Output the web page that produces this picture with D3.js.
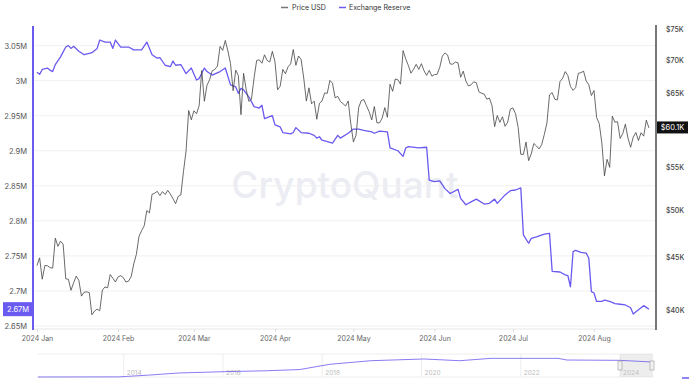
<!DOCTYPE html>
<html><head><meta charset="utf-8">
<script src="https://cdn.jsdelivr.net/npm/d3@7"></script>
<style>html,body{margin:0;padding:0;background:#fff;} svg{display:block;font-family:Inter,"Noto Sans",sans-serif;}</style>
</head><body><svg id="c" width="700" height="385"></svg>
<script>
// ---------- data ----------
const priceStart = "2024-01-01";
const priceUSD = [
44180,44950,42850,44180,44160,43970,43930,46970,46120,46660,46340,42890,42840,41800,42510,43150,42740,41260,41620,41660,41580,39570,39900,40080,39930,41820,42120,42030,43300,42950,42580,
43080,43190,43010,42580,42660,43090,44340,45300,47150,47770,48290,49960,49700,51810,51940,52160,51660,52120,51780,52270,51840,51300,50740,51570,51730,54480,57090,62500,61200,
62440,62030,63170,68330,63800,66110,66930,68300,68500,69020,72120,71480,73080,71400,69400,65320,68390,67550,61910,67910,65490,63780,64060,67210,69880,69990,69460,70780,69890,69650,71330,
69700,65450,65980,68510,67840,68900,69360,71620,69140,70590,70060,67200,63820,65740,63430,63810,61280,63510,63840,64990,64940,66840,66410,64290,64500,63770,63460,63120,63840,60670,
58250,59120,62890,63890,64030,63160,62330,61190,63050,60790,60790,61450,62900,61550,66270,65230,67050,66940,66280,71450,70140,69120,67930,68530,69290,68510,69390,68300,67590,68360,67490,
67710,67760,68800,70570,71080,70760,69340,69310,69650,69510,67320,68240,66750,66010,66190,66640,66490,65140,64960,64830,64100,64250,63180,60280,61800,60860,61610,60320,60890,62680,
62850,62030,60170,56660,56660,58230,55860,56710,58050,57720,57340,57900,59230,60790,64720,65040,64090,63990,66680,67150,68170,67580,65930,65370,65800,67910,68000,68250,66780,66190,64620,
65350,61500,60700,58120,53990,56030,55030,61710,60880,60940,58710,59350,60610,58740,57560,58880,59490,58430,59460,59010,61160,60100
];
const reserveDates = [
"01-01","01-02","01-03","01-05","01-06","01-07","01-08","01-10","01-12","01-13","01-14","01-15","01-17","01-19","01-21","01-22","01-24","01-25","01-27","01-29","01-30","01-31",
"02-02","02-05","02-07","02-10","02-12","02-14","02-16","02-17","02-19","02-21","02-22","02-23","02-25","02-27","02-29",
"03-02","03-03","03-05","03-06","03-08","03-11","03-13","03-15","03-17","03-18","03-19","03-20","03-22","03-24","03-26","03-27","03-28","03-31",
"04-01","04-03","04-04","04-07","04-08","04-09","04-11","04-14","04-16","04-17","04-18","04-19","04-21","04-23","04-25","04-26","04-29",
"05-01","05-03","05-05","05-08","05-09","05-11","05-14","05-15","05-18","05-20","05-21","05-22","05-26","05-29","05-30",
"06-01","06-03","06-05","06-07","06-10","06-11","06-13","06-15","06-17","06-20","06-22","06-24","06-25","06-28","06-30",
"07-02","07-04","07-05","07-07","07-08","07-10","07-13","07-15","07-16","07-19","07-21","07-22","07-23","07-24","07-25","07-27","07-29","07-30","07-31",
"08-01","08-02","08-04","08-05","08-07","08-09","08-11","08-13","08-15","08-16","08-18","08-20","08-22"
];
const reserveM = [
3.012,3.009,3.016,3.018,3.015,3.013,3.023,3.034,3.048,3.050,3.046,3.049,3.042,3.037,3.039,3.040,3.046,3.058,3.055,3.055,3.046,3.058,
3.048,3.048,3.044,3.044,3.055,3.037,3.032,3.033,3.022,3.020,3.028,3.022,3.023,3.010,3.018,
3.001,3.003,3.018,3.013,3.008,3.013,3.018,2.994,2.991,2.982,2.989,2.987,2.977,2.963,2.961,2.965,2.946,2.950,
2.937,2.934,2.926,2.924,2.926,2.933,2.926,2.925,2.922,2.918,2.920,2.915,2.913,2.911,2.922,2.918,2.925,
2.931,2.931,2.929,2.927,2.925,2.928,2.927,2.904,2.900,2.892,2.904,2.906,2.904,2.905,2.858,
2.856,2.857,2.846,2.839,2.845,2.832,2.823,2.827,2.831,2.824,2.825,2.831,2.825,2.837,2.843,
2.844,2.847,2.780,2.768,2.775,2.777,2.781,2.782,2.728,2.727,2.723,2.722,2.706,2.756,2.758,2.755,2.754,2.747,2.699,
2.697,2.685,2.685,2.687,2.685,2.682,2.681,2.680,2.676,2.667,2.673,2.679,2.674
];
const leftTicks = [2.65,2.7,2.75,2.8,2.85,2.9,2.95,3.0,3.05];
const leftTickLabels = ["2.65M","2.7M","2.75M","2.8M","2.85M","2.9M","2.95M","3M","3.05M"];
// $60K tick is hidden under the last-value badge in the reference
const rightTicks = [40000,45000,50000,55000,65000,70000,75000];
const rightTickLabels = ["$40K","$45K","$50K","$55K","$65K","$70K","$75K"];
const monthTicks = ["2024-01-01","2024-02-01","2024-03-01","2024-04-01","2024-05-01","2024-06-01","2024-07-01","2024-08-01"];
const monthLabels = ["2024 Jan","2024 Feb","2024 Mar","2024 Apr","2024 May","2024 Jun","2024 Jul","2024 Aug"];
const lastPriceLabel = "$60.1K";
const lastReserveLabel = "2.67M";
const navYears = [2012.27,2013.9,2014.5,2015.1,2016.0,2016.9,2017.55,2018.15,2018.98,2020.05,2020.77,2021.4,2022.75,2022.93,2024.0,2024.65];
const navValues = [0.0,0.02,0.3,0.64,0.85,1.01,1.2,2.04,2.62,2.9,2.62,3.0,3.0,2.73,2.68,2.41];
const navYearLabels = [2014,2016,2018,2020,2022,2024];

// ---------- layout ----------
const PL = 33, PR = 656, PT = 26, PB = 329;
const C_PURPLE = "#6a5af0", C_PRICE = "#444";
const svg = d3.select("#c");

const x = d3.scaleUtc().domain([new Date("2024-01-01"), new Date("2024-08-01")]).range([37, 594]);
const yL = d3.scaleLinear().domain([2.6457, 3.078]).range([PB, PT]);
const yR = d3.scaleLog().domain([38335, 75490]).range([PB, PT]);

// watermark
svg.append("text").attr("x", 345).attr("y", 198).attr("text-anchor", "middle")
  .attr("font-size", 37).attr("fill", "#ececf3").attr("font-weight", 500).text("CryptoQuant");

// gridlines
svg.append("g").selectAll("line").data(leftTicks).join("line")
  .attr("x1", PL).attr("x2", PR).attr("y1", d => yL(d)).attr("y2", d => yL(d))
  .attr("stroke", "#f0f0f0").attr("stroke-width", 1);

// bottom axis
const xAxis = d3.axisBottom(x).tickValues(monthTicks.map(d => new Date(d)))
  .tickFormat((d, i) => monthLabels[i]).tickSize(3).tickSizeOuter(0);
const gx = svg.append("g").attr("transform", `translate(0,${PB})`).call(xAxis);
gx.select(".domain").attr("stroke", "#e6e6e6").attr("d", `M${PL},0H${PR}`);
gx.selectAll(".tick line").attr("stroke", "#ddd");
gx.selectAll(".tick text").attr("fill", "#666").attr("font-size", 7).attr("dy", "0.9em").attr("font-family", "Inter");

// left axis
const yAxisL = d3.axisLeft(yL).tickValues(leftTicks).tickFormat((d, i) => leftTickLabels[i]).tickSize(0).tickPadding(6);
const gl = svg.append("g").attr("transform", `translate(${PL},0)`).call(yAxisL);
gl.select(".domain").remove();
gl.selectAll(".tick text").attr("fill", "#555").attr("font-size", 7.5).attr("font-family", "Inter");
svg.append("line").attr("x1", PL).attr("x2", PL).attr("y1", PT).attr("y2", PB + 1)
  .attr("stroke", C_PURPLE).attr("stroke-width", 2);

// right axis
const yAxisR = d3.axisRight(yR).tickValues(rightTicks).tickFormat((d, i) => rightTickLabels[i]).tickSize(0).tickPadding(10);
const gr = svg.append("g").attr("transform", `translate(${PR},0)`).call(yAxisR);
gr.select(".domain").remove();
gr.selectAll(".tick text").attr("fill", "#444").attr("font-size", 7).attr("font-weight", 500).attr("font-family", "Inter");
svg.append("line").attr("x1", PR).attr("x2", PR).attr("y1", PT - 1).attr("y2", PB + 1)
  .attr("stroke", "#777").attr("stroke-width", 2);

// lines
const priceData = priceUSD.map((v, i) => ({ d: d3.utcDay.offset(new Date(priceStart), i), v }));
const reserveData = reserveDates.map((d, i) => ({ d: new Date("2024-" + d), v: reserveM[i] }));

svg.append("path").datum(reserveData)
  .attr("d", d3.line().x(d => x(d.d)).y(d => yL(d.v)))
  .attr("fill", "none").attr("stroke", C_PURPLE).attr("stroke-width", 1.3).attr("stroke-linejoin", "round");
svg.append("path").datum(priceData)
  .attr("d", d3.line().x(d => x(d.d)).y(d => yR(d.v)))
  .attr("fill", "none").attr("stroke", C_PRICE).attr("stroke-width", 0.8).attr("stroke-linejoin", "round");

// last value badges
const lp = priceData[priceData.length - 1];
const lpy = yR(lp.v);
svg.append("rect").attr("x", PR + 1).attr("y", lpy - 6.5).attr("width", 31).attr("height", 12).attr("fill", "#111");
svg.append("text").attr("x", PR + 16.5).attr("y", lpy + 2.5).attr("text-anchor", "middle")
  .attr("fill", "#fff").attr("font-size", 7.5).text(lastPriceLabel);
const lr = reserveData[reserveData.length - 1];
const lry = yL(lr.v);
svg.append("rect").attr("x", 3).attr("y", lry - 7).attr("width", PL - 3).attr("height", 14).attr("fill", C_PURPLE);
svg.append("text").attr("x", 18).attr("y", lry + 2.5).attr("text-anchor", "middle")
  .attr("fill", "#fff").attr("font-size", 7.5).text(lastReserveLabel);

// legend
const lg = svg.append("g").attr("font-size", 7).attr("fill", "#333");
lg.append("line").attr("x1", 281).attr("x2", 288).attr("y1", 7.5).attr("y2", 7.5).attr("stroke", "#777").attr("stroke-width", 1.5);
lg.append("text").attr("x", 292).attr("y", 10).text("Price USD");
lg.append("line").attr("x1", 339).attr("x2", 346).attr("y1", 7.5).attr("y2", 7.5).attr("stroke", C_PURPLE).attr("stroke-width", 1.5);
lg.append("text").attr("x", 349).attr("y", 10).text("Exchange Reserve");

// navigator
const NL = 38, NR = 653, NT = 354, NB = 377;
const nx = d3.scaleLinear().domain([2014, 2024]).range([123.7, 620]);
const ny = d3.scaleLinear().domain([0, 3.7]).range([NB, NT]);
const nav = svg.append("g");
nav.append("line").attr("x1", NL).attr("x2", NR).attr("y1", NT).attr("y2", NT).attr("stroke", "#eee");
nav.append("line").attr("x1", NL).attr("x2", NR).attr("y1", NB).attr("y2", NB).attr("stroke", "#eee");
nav.selectAll(".sep").data(navYearLabels).join("line").attr("class", "sep")
  .attr("x1", d => nx(d)).attr("x2", d => nx(d)).attr("y1", NT).attr("y2", NB).attr("stroke", "#eee");
nav.selectAll(".yl").data(navYearLabels).join("text").attr("class", "yl")
  .attr("x", d => nx(d) + 3).attr("y", NB - 2).attr("font-size", 6.5).attr("fill", "#bbb").text(d => d);
nav.append("rect").attr("x", nx(2024)).attr("y", NT).attr("width", NR - nx(2024)).attr("height", NB - NT)
  .attr("fill", "#ccc").attr("fill-opacity", 0.35);
nav.append("path").datum(navYears.map((y, i) => [y, navValues[i]]))
  .attr("d", d3.line().x(d => nx(d[0])).y(d => ny(d[1])))
  .attr("fill", "none").attr("stroke", C_PURPLE).attr("stroke-width", 1).attr("stroke-opacity", 0.8);
[nx(2024), NR - 1].forEach(hx => {
  nav.append("rect").attr("x", hx - 2).attr("y", 361).attr("width", 4).attr("height", 9)
    .attr("fill", "#f2f2f2").attr("stroke", "#999").attr("stroke-width", 0.6);
});
svg.append("line").attr("x1", 682).attr("x2", 689).attr("y1", 378).attr("y2", 378).attr("stroke", C_PURPLE).attr("stroke-width", 1.5);
</script></body></html>
